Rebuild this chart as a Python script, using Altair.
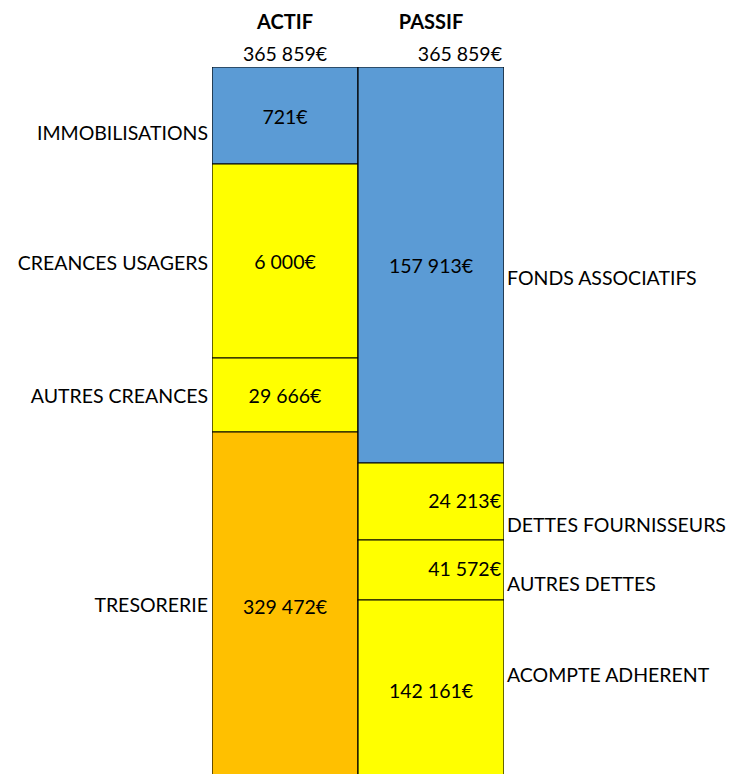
import altair as alt
import pandas as pd

# ---- data ----
columns = ["ACTIF", "PASSIF"]

actif_labels = ["IMMOBILISATIONS", "CREANCES USAGERS", "AUTRES CREANCES", "TRESORERIE"]
actif_amounts = [721, 6000, 29666, 329472]
actif_groups = ["Immobilisations", "Créances", "Créances", "Trésorerie"]
actif_blocks = [97, 194, 74, 348]      # drawn block heights (not proportional to amounts)

passif_labels = ["FONDS ASSOCIATIFS", "DETTES FOURNISSEURS", "AUTRES DETTES", "ACOMPTE ADHERENT"]
passif_amounts = [157913, 24213, 41572, 142161]
passif_groups = ["Fonds propres", "Dettes", "Dettes", "Dettes"]
passif_blocks = [396, 77, 60, 180]

# ---- style ----
group_domain = ["Immobilisations", "Fonds propres", "Créances", "Dettes", "Trésorerie"]
group_colors = ["#5B9BD5", "#5B9BD5", "#FFFF00", "#FFFF00", "#FFC000"]
right_aligned_values = ["DETTES FOURNISSEURS", "AUTRES DETTES"]
label_nudge = {"IMMOBILISATIONS": 18, "CREANCES USAGERS": 3, "AUTRES CREANCES": 2,
               "FONDS ASSOCIATIFS": 14, "DETTES FOURNISSEURS": 24, "AUTRES DETTES": 15,
               "ACOMPTE ADHERENT": -14}
FONT = "Lato"
FS = 19.5

rows = []
for col, labels, amounts, groups, blocks in [
    ("ACTIF", actif_labels, actif_amounts, actif_groups, actif_blocks),
    ("PASSIF", passif_labels, passif_amounts, passif_groups, passif_blocks),
]:
    for i, (lab, amt, grp, blk) in enumerate(zip(labels, amounts, groups, blocks)):
        rows.append({"col": col, "order": i, "label": lab, "amount": amt,
                     "group": grp, "block": blk, "nudge": label_nudge.get(lab, 0),
                     "right": lab in right_aligned_values})
df = pd.DataFrame(rows)

fmt = "replace(format({v}, ','), regexp(',', 'g'), ' ') + '€'"

base = (
    alt.Chart(df)
    .transform_stack(stack="block", groupby=["col"], as_=["y0", "y1"],
                     sort=[alt.SortField("order", "ascending")])
    .transform_calculate(mid="(datum.y0 + datum.y1) / 2",
                         label_y="(datum.y0 + datum.y1) / 2 + datum.nudge",
                         amount_txt=fmt.format(v="datum.amount"))
)

xs = alt.Scale(domain=columns, paddingInner=0, paddingOuter=0)
ys = alt.Scale(domain=[0, 707], reverse=True)

bars = base.mark_bar(stroke="black", strokeWidth=1.2, clip=True).encode(
    x=alt.X("col:N", scale=xs, axis=None),
    y=alt.Y("y0:Q", scale=ys, axis=None),
    y2="y1:Q",
    color=alt.Color("group:N", scale=alt.Scale(domain=group_domain, range=group_colors), legend=None),
)

val_center = base.transform_filter("!datum.right").mark_text(
    align="center", baseline="middle", dy=2).encode(
    x=alt.X("col:N", scale=xs, axis=None),
    y=alt.Y("mid:Q", scale=ys, axis=None),
    text="amount_txt:N",
)
val_right = base.transform_filter("datum.right").mark_text(
    align="right", baseline="middle", dx=-3).encode(
    x=alt.X("col:N", scale=xs, axis=None, bandPosition=1),
    y=alt.Y("mid:Q", scale=ys, axis=None),
    text="amount_txt:N",
)

lab_actif = base.transform_filter("datum.col === 'ACTIF'").mark_text(
    align="right", baseline="middle", dx=-4).encode(
    x=alt.X("col:N", scale=xs, axis=None, bandPosition=0),
    y=alt.Y("label_y:Q", scale=ys, axis=None),
    text="label:N",
)
lab_passif = base.transform_filter("datum.col === 'PASSIF'").mark_text(
    align="left", baseline="middle", dx=3).encode(
    x=alt.X("col:N", scale=xs, axis=None, bandPosition=1),
    y=alt.Y("label_y:Q", scale=ys, axis=None),
    text="label:N",
)

tot = alt.Chart(df).transform_aggregate(total="sum(amount)", groupby=["col"]).transform_calculate(
    total_txt=fmt.format(v="datum.total"))

headers = tot.mark_text(align="center", baseline="middle", fontWeight="bold", fontSize=20).encode(
    x=alt.X("col:N", scale=xs, axis=None),
    y=alt.value(-44),
    text="col:N",
)
tot_actif = tot.transform_filter("datum.col === 'ACTIF'").mark_text(
    align="center", baseline="middle").encode(
    x=alt.X("col:N", scale=xs, axis=None),
    y=alt.value(-12),
    text="total_txt:N",
)
tot_passif = tot.transform_filter("datum.col === 'PASSIF'").mark_text(
    align="right", baseline="middle", dx=-2).encode(
    x=alt.X("col:N", scale=xs, axis=None, bandPosition=1),
    y=alt.value(-12),
    text="total_txt:N",
)

chart = (
    alt.layer(bars, val_center, val_right, lab_actif, lab_passif, headers, tot_actif, tot_passif)
    .properties(width=292, height=707,
                padding={"left": 204, "top": 59, "right": 223, "bottom": 0},
                autosize=alt.AutoSizeParams(type="none"))
    .configure_view(stroke=None)
    .configure_text(font=FONT, fontSize=FS, color="black")
)

chart.save("out.html", embed_options={"renderer": "svg", "actions": False})
